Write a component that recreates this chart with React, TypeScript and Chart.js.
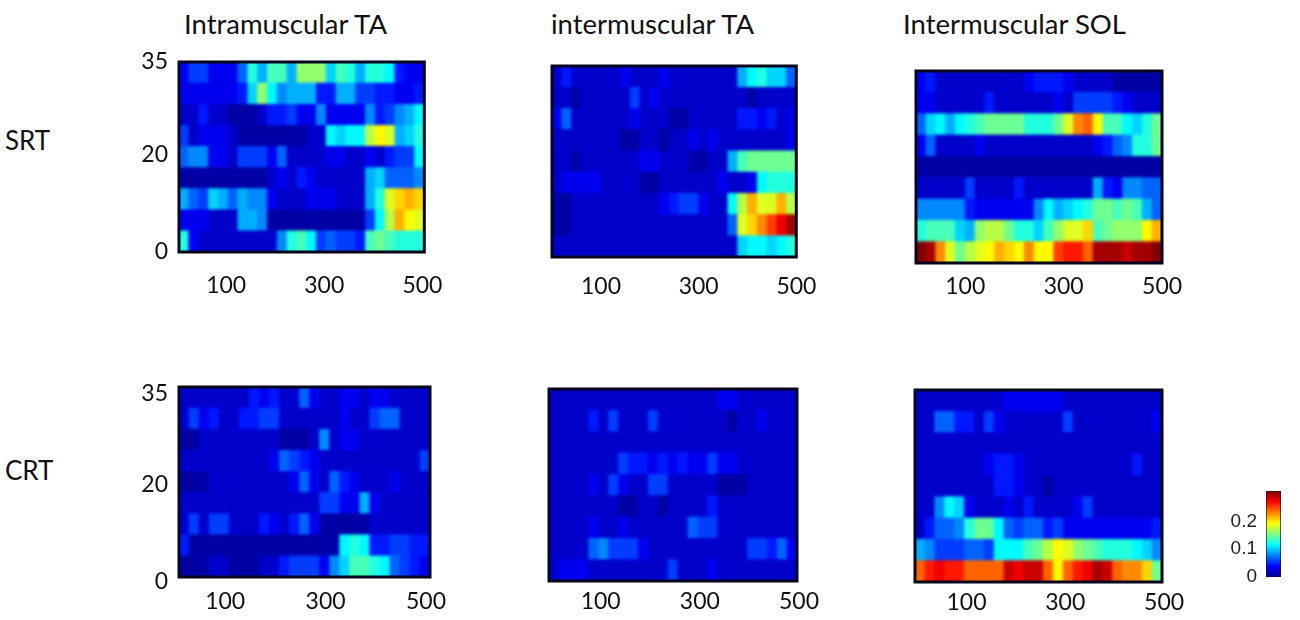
import { useEffect, useRef } from "react"
import { Chart, registerables } from "chart.js"

Chart.register(...registerables)

// time bins, 20 ms wide
const xCategories = [20, 40, 60, 80, 100, 120, 140, 160, 180, 200, 220, 240, 260, 280, 300, 320, 340, 360, 380, 400, 420, 440, 460, 480, 500]
const xTickLabels = [100, 300, 500]
const yTickLabels = ["0", "20", "35"]
const colorbarTicks = [0, 0.1, 0.2]
const colorMax = 0.27

// cell values in units of 0.01, rows listed top to bottom
const srtIntraTA = [
  [3, 5, 5, 3, 3, 3, 6, 11, 8, 12, 12, 8, 14, 14, 14, 9, 12, 11, 8, 11, 11, 10, 4, 3, 3],
  [3, 3, 3, 3, 3, 3, 4, 9, 14, 10, 7, 8, 8, 8, 4, 4, 8, 8, 5, 5, 4, 4, 3, 3, 4],
  [2, 2, 4, 2, 2, 1, 1, 1, 2, 4, 4, 5, 3, 3, 7, 3, 3, 3, 3, 7, 4, 5, 7, 8, 10],
  [5, 2, 3, 3, 3, 2, 1, 1, 1, 1, 1, 1, 1, 2, 2, 10, 9, 10, 10, 15, 17, 16, 8, 9, 11],
  [6, 7, 7, 3, 3, 2, 5, 5, 5, 3, 6, 2, 2, 2, 2, 3, 3, 2, 2, 3, 2, 4, 5, 5, 10],
  [1, 1, 1, 1, 1, 1, 1, 1, 1, 2, 3, 2, 4, 3, 2, 2, 2, 2, 2, 8, 9, 6, 6, 6, 7],
  [8, 6, 5, 9, 8, 6, 8, 7, 7, 3, 2, 2, 2, 3, 3, 3, 2, 2, 2, 8, 11, 16, 18, 19, 18],
  [3, 3, 3, 2, 2, 2, 8, 8, 7, 1, 1, 1, 1, 1, 1, 1, 1, 1, 1, 5, 10, 15, 19, 17, 16],
  [11, 3, 2, 2, 2, 2, 2, 2, 2, 2, 7, 11, 12, 10, 5, 6, 5, 5, 4, 12, 13, 12, 11, 11, 11],
]
const srtInterTA = [
  [2, 4, 2, 2, 2, 2, 2, 3, 2, 2, 2, 3, 2, 2, 2, 2, 2, 2, 2, 8, 10, 11, 9, 9, 6],
  [2, 2, 1, 2, 2, 2, 2, 2, 5, 2, 3, 2, 2, 2, 2, 2, 2, 2, 2, 2, 1, 2, 2, 2, 2],
  [3, 6, 2, 2, 2, 2, 2, 2, 3, 2, 2, 2, 1, 1, 2, 2, 2, 2, 2, 4, 4, 3, 4, 2, 3],
  [2, 2, 2, 2, 2, 2, 2, 1, 1, 2, 2, 1, 2, 2, 3, 2, 3, 2, 2, 2, 2, 2, 2, 2, 3],
  [2, 2, 1, 2, 2, 2, 2, 2, 2, 3, 3, 2, 2, 2, 1, 1, 2, 2, 8, 12, 13, 13, 13, 13, 13],
  [2, 3, 3, 3, 3, 2, 2, 2, 2, 1, 1, 2, 2, 2, 2, 2, 2, 3, 2, 2, 3, 10, 11, 11, 11],
  [1, 1, 2, 2, 2, 2, 2, 2, 2, 2, 2, 3, 4, 5, 5, 3, 2, 2, 10, 15, 19, 16, 16, 19, 15],
  [1, 1, 2, 2, 2, 2, 2, 2, 2, 2, 2, 2, 2, 2, 2, 2, 2, 2, 6, 16, 18, 20, 22, 24, 26],
  [2, 2, 2, 2, 2, 2, 2, 2, 2, 2, 2, 2, 2, 2, 2, 2, 2, 2, 2, 9, 10, 10, 9, 10, 11],
]
const srtInterSOL = [
  [3, 4, 2, 2, 2, 2, 2, 2, 2, 2, 2, 3, 4, 4, 4, 3, 2, 2, 2, 2, 1, 1, 1, 1, 1],
  [3, 3, 2, 2, 2, 2, 2, 4, 2, 2, 2, 2, 2, 2, 3, 2, 5, 5, 5, 5, 4, 3, 2, 2, 2],
  [6, 9, 10, 8, 10, 11, 12, 13, 13, 13, 13, 11, 11, 11, 13, 16, 20, 21, 17, 12, 12, 10, 9, 11, 13],
  [3, 6, 2, 2, 2, 2, 3, 2, 2, 2, 2, 2, 2, 2, 2, 2, 2, 2, 3, 4, 6, 7, 11, 11, 13],
  [1, 1, 1, 1, 1, 1, 1, 1, 1, 1, 1, 1, 1, 1, 1, 1, 1, 1, 1, 1, 1, 1, 1, 1, 1],
  [2, 2, 2, 2, 2, 5, 2, 2, 2, 2, 4, 2, 2, 2, 2, 2, 2, 2, 8, 4, 3, 7, 7, 6, 6],
  [7, 7, 7, 7, 7, 4, 3, 3, 3, 3, 3, 3, 7, 10, 8, 9, 10, 11, 13, 13, 12, 13, 12, 8, 6],
  [11, 12, 12, 12, 9, 8, 14, 15, 15, 13, 11, 11, 9, 12, 14, 16, 16, 18, 12, 13, 14, 14, 14, 17, 19],
  [27, 26, 20, 16, 13, 15, 16, 17, 19, 18, 17, 20, 17, 17, 22, 23, 23, 21, 26, 26, 26, 25, 26, 26, 27],
]
const crtIntraTA = [
  [2, 2, 2, 2, 2, 2, 2, 4, 3, 4, 2, 2, 6, 3, 2, 2, 3, 3, 2, 3, 3, 2, 2, 2, 2],
  [2, 5, 3, 4, 2, 2, 4, 4, 5, 5, 2, 2, 2, 2, 2, 2, 3, 2, 2, 5, 6, 6, 2, 2, 2],
  [1, 1, 2, 2, 2, 2, 2, 2, 2, 2, 1, 1, 1, 2, 7, 2, 3, 3, 2, 2, 2, 2, 2, 2, 2],
  [2, 2, 2, 2, 2, 2, 2, 2, 2, 3, 6, 5, 4, 3, 2, 2, 2, 2, 2, 2, 2, 2, 2, 2, 5],
  [1, 1, 1, 2, 2, 2, 2, 2, 2, 2, 2, 3, 6, 3, 2, 6, 4, 3, 2, 2, 2, 3, 2, 2, 2],
  [2, 2, 2, 2, 2, 2, 2, 2, 2, 2, 2, 2, 2, 2, 5, 5, 3, 3, 8, 3, 2, 2, 2, 2, 2],
  [2, 5, 2, 5, 5, 2, 2, 2, 4, 3, 2, 4, 6, 3, 1, 1, 1, 1, 1, 2, 2, 2, 2, 2, 2],
  [4, 1, 1, 1, 1, 1, 1, 1, 1, 1, 1, 1, 1, 1, 1, 1, 10, 11, 10, 4, 4, 5, 5, 4, 4],
  [1, 1, 1, 2, 2, 1, 1, 1, 2, 2, 4, 5, 5, 5, 3, 7, 9, 12, 12, 11, 10, 6, 5, 4, 3],
]
const crtInterTA = [
  [2, 2, 2, 2, 2, 2, 2, 2, 2, 2, 2, 2, 2, 2, 2, 2, 2, 3, 3, 2, 2, 2, 2, 2, 2],
  [2, 2, 2, 2, 4, 2, 5, 2, 2, 2, 5, 2, 2, 2, 2, 2, 2, 2, 1, 2, 2, 3, 2, 2, 2],
  [2, 2, 2, 2, 2, 2, 2, 2, 2, 2, 2, 2, 2, 2, 2, 2, 2, 2, 2, 2, 2, 2, 2, 2, 2],
  [2, 2, 2, 2, 2, 2, 2, 5, 4, 4, 3, 4, 3, 4, 3, 3, 5, 3, 3, 2, 2, 2, 2, 2, 2],
  [2, 2, 2, 2, 3, 2, 5, 3, 2, 2, 5, 5, 2, 2, 2, 2, 2, 1, 1, 1, 2, 2, 2, 2, 2],
  [2, 2, 2, 2, 2, 2, 2, 1, 1, 2, 2, 1, 2, 2, 2, 2, 4, 2, 2, 2, 2, 2, 2, 2, 2],
  [2, 2, 2, 2, 3, 2, 2, 3, 2, 2, 2, 2, 2, 2, 6, 5, 5, 2, 2, 2, 2, 2, 2, 2, 2],
  [2, 2, 2, 2, 6, 7, 5, 5, 5, 3, 2, 2, 2, 2, 2, 2, 2, 2, 2, 2, 5, 5, 4, 6, 3],
  [2, 3, 3, 3, 2, 2, 2, 2, 2, 2, 2, 2, 5, 2, 2, 2, 3, 2, 2, 2, 2, 2, 2, 2, 2],
]
const crtInterSOL = [
  [2, 2, 2, 2, 2, 2, 2, 2, 2, 3, 3, 3, 3, 3, 3, 2, 2, 2, 2, 2, 2, 2, 2, 2, 2],
  [2, 2, 6, 6, 4, 4, 2, 5, 3, 2, 2, 2, 2, 2, 2, 5, 2, 2, 2, 2, 2, 2, 2, 2, 3],
  [2, 2, 2, 2, 2, 2, 2, 2, 2, 2, 2, 2, 2, 2, 2, 2, 2, 2, 2, 2, 2, 2, 2, 2, 2],
  [2, 2, 2, 2, 2, 2, 2, 3, 4, 4, 3, 2, 2, 2, 2, 2, 2, 2, 2, 2, 2, 2, 4, 2, 2],
  [2, 2, 2, 2, 2, 2, 2, 2, 4, 4, 3, 2, 2, 1, 2, 2, 2, 2, 2, 2, 2, 2, 2, 2, 2],
  [2, 2, 7, 10, 9, 3, 2, 2, 2, 3, 2, 4, 2, 2, 2, 2, 3, 5, 2, 2, 2, 2, 2, 2, 2],
  [2, 4, 6, 6, 7, 11, 13, 13, 10, 6, 5, 6, 6, 4, 5, 3, 3, 3, 3, 3, 3, 3, 3, 3, 4],
  [8, 7, 5, 5, 5, 6, 6, 5, 10, 10, 10, 12, 13, 15, 17, 16, 14, 13, 12, 11, 11, 11, 10, 9, 7],
  [21, 23, 24, 23, 23, 21, 21, 21, 21, 25, 24, 25, 25, 21, 17, 21, 23, 24, 26, 25, 21, 20, 20, 18, 13],
]

const font = "Lato"
const jetStops: [number, string][] = [
  [0, "#00008f"],
  [0.125, "#0000ff"],
  [0.375, "#00ffff"],
  [0.625, "#ffff00"],
  [0.875, "#ff0000"],
  [1, "#800000"],
]

function jet(v: number) {
  const t = Math.min(1, Math.max(0, v))
  const ramp = (c: number) => Math.round(255 * Math.min(1, Math.max(0, 1.5 - Math.abs(4 * t - c))))
  return `rgb(${ramp(3)},${ramp(2)},${ramp(1)})`
}

// softens the finished cells as one image and draws the dark frame round the plot area
const softCells = {
  id: "softCells",
  afterDatasetsDraw(chart: Chart) {
    const { ctx, chartArea: a, canvas } = chart
    const dpr = chart.currentDevicePixelRatio
    ctx.save()
    ctx.beginPath()
    ctx.rect(a.left, a.top, a.width, a.height)
    ctx.clip()
    ctx.filter = "blur(1.7px)"
    ctx.drawImage(canvas, a.left * dpr, a.top * dpr, a.width * dpr, a.height * dpr, a.left, a.top, a.width, a.height)
    ctx.restore()
    ctx.strokeStyle = "#05051e"
    ctx.lineWidth = 3
    ctx.strokeRect(a.left, a.top, a.width, a.height)
  },
}

// the library leaves room for half a tick label above the axis, the frame must not move
const fitWithoutOverhang = (size: number) => (scale: any) => {
  scale.width = size
  scale.paddingTop = 0
  scale.paddingBottom = 0
}

interface HeatmapProps {
  rows: number[][]
  left: number
  right: number
  top: number
  bottom: number
  labelPad: number
  labelShift: number
  yTicks?: number[]
}

const PAD_LEFT = 50
const PAD_TOP = 16
const PAD_RIGHT = 30
const PAD_BOTTOM = 48

function Heatmap({ rows, left, right, top, bottom, labelPad, labelShift, yTicks }: HeatmapProps) {
  const chartRef = useRef<HTMLCanvasElement | null>(null)

  useEffect(() => {
    if (!chartRef.current) return

    const datasets = [...rows].reverse().map((row, i) => ({
      label: `row ${i}`,
      data: row.map(() => 1),
      backgroundColor: row.map((v) => jet((v * 0.01) / colorMax)),
      borderWidth: 0,
      barPercentage: 1,
      categoryPercentage: 1,
    }))

    const chart = new Chart(chartRef.current, {
      type: "bar",
      data: { labels: xCategories, datasets },
      plugins: [softCells],
      options: {
        animation: false,
        responsive: false,
        layout: { autoPadding: false, padding: { top: PAD_TOP, right: PAD_RIGHT } },
        plugins: { legend: { display: false }, tooltip: { enabled: false } },
        scales: {
          x: {
            stacked: true,
            grid: { display: false, drawTicks: false },
            border: { display: false },
            afterFit: (scale: any) => {
              scale.height = PAD_BOTTOM
            },
            ticks: {
              autoSkip: false,
              maxRotation: 0,
              padding: labelPad,
              labelOffset: labelShift,
              color: "#111",
              font: { family: font, size: 23 },
              callback: (_v: any, i: number) => (xTickLabels.includes(xCategories[i]) ? String(xCategories[i]) : ""),
            },
          },
          y: {
            stacked: true,
            min: 0,
            max: rows.length,
            grid: { display: false, drawTicks: false },
            border: { display: false },
            afterFit: fitWithoutOverhang(PAD_LEFT),
            afterBuildTicks: (scale: any) => {
              scale.ticks = (yTicks ?? []).map((value) => ({ value }))
            },
            ticks: {
              padding: 11,
              color: "#111",
              font: { family: font, size: 23 },
              callback: (_v: any, i: number) => yTickLabels[i],
            },
          },
        },
      },
    })

    return () => chart.destroy()
  }, [rows, labelPad, labelShift, yTicks])

  return (
    <canvas
      ref={chartRef}
      width={right - left + PAD_LEFT + PAD_RIGHT}
      height={bottom - top + PAD_TOP + PAD_BOTTOM}
      style={{ position: "absolute", left: left - PAD_LEFT, top: top - PAD_TOP }}
    />
  )
}

function Colorbar() {
  const chartRef = useRef<HTMLCanvasElement | null>(null)

  useEffect(() => {
    if (!chartRef.current) return

    const chart = new Chart(chartRef.current, {
      type: "bar",
      data: {
        labels: ["scale"],
        datasets: [
          {
            data: [0.31],
            barPercentage: 1,
            categoryPercentage: 1,
            borderColor: "#15151f",
            borderWidth: 1,
            backgroundColor: (c: any) => {
              const area = c.chart.chartArea
              if (!area) return "#000"
              const g = c.chart.ctx.createLinearGradient(0, area.bottom, 0, area.top)
              jetStops.forEach(([p, col]) => g.addColorStop(p, col))
              return g
            },
          },
        ],
      },
      options: {
        animation: false,
        responsive: false,
        layout: { autoPadding: false, padding: { top: 11, right: 9 } },
        plugins: { legend: { display: false }, tooltip: { enabled: false } },
        scales: {
          x: {
            grid: { display: false, drawTicks: false },
            border: { display: false },
            ticks: { display: false },
            afterFit: (scale: any) => {
              scale.height = 12
            },
          },
          y: {
            min: 0,
            max: 0.31,
            grid: { display: false, drawTicks: false },
            border: { display: false },
            afterFit: fitWithoutOverhang(46),
            afterBuildTicks: (scale: any) => {
              scale.ticks = colorbarTicks.map((value) => ({ value }))
            },
            ticks: {
              padding: 9,
              color: "#222",
              font: { family: '"Liberation Sans", sans-serif', size: 19 },
              callback: (v: any) => String(v),
            },
          },
        },
      },
    })

    return () => chart.destroy()
  }, [])

  return (
    <canvas
      ref={chartRef}
      width={70}
      height={109}
      style={{ position: "absolute", left: 1220, top: 480 }}
    />
  )
}

const textStyle = {
  position: "absolute" as const,
  fontFamily: font,
  fontSize: 27.5,
  color: "#111",
  lineHeight: "30px",
  whiteSpace: "nowrap" as const,
}
const sideStyle = { ...textStyle, fontSize: 26 }

export default function App() {
  return (
    <div style={{ position: "absolute", left: 0, top: 0, width: 1300, height: 620, background: "#fff", overflow: "hidden" }}>
      <div style={{ ...textStyle, left: 184, top: 9 }}>Intramuscular TA</div>
      <div style={{ ...textStyle, left: 551, top: 9 }}>intermuscular TA</div>
      <div style={{ ...textStyle, left: 903, top: 9 }}>Intermuscular SOL</div>
      <div style={{ ...sideStyle, left: 5, top: 125 }}>SRT</div>
      <div style={{ ...sideStyle, left: 5, top: 455 }}>CRT</div>

      <Heatmap rows={srtIntraTA} left={179} right={430} top={62} bottom={252} labelPad={20} labelShift={3} yTicks={[0, 4.6, 9]} />
      <Heatmap rows={srtInterTA} left={552} right={798} top={66} bottom={257} labelPad={16} labelShift={5} />
      <Heatmap rows={srtInterSOL} left={916} right={1162} top={71} bottom={263} labelPad={10} labelShift={5} />
      <Heatmap rows={crtIntraTA} left={179} right={430} top={387} bottom={577} labelPad={11} labelShift={1} yTicks={[-0.2, 4.4, 8.7]} />
      <Heatmap rows={crtInterTA} left={549} right={797} top={389} bottom={581} labelPad={7} labelShift={7} />
      <Heatmap rows={crtInterSOL} left={915} right={1162} top={390} bottom={582} labelPad={7} labelShift={7} />
      <Colorbar />
    </div>
  )
}
